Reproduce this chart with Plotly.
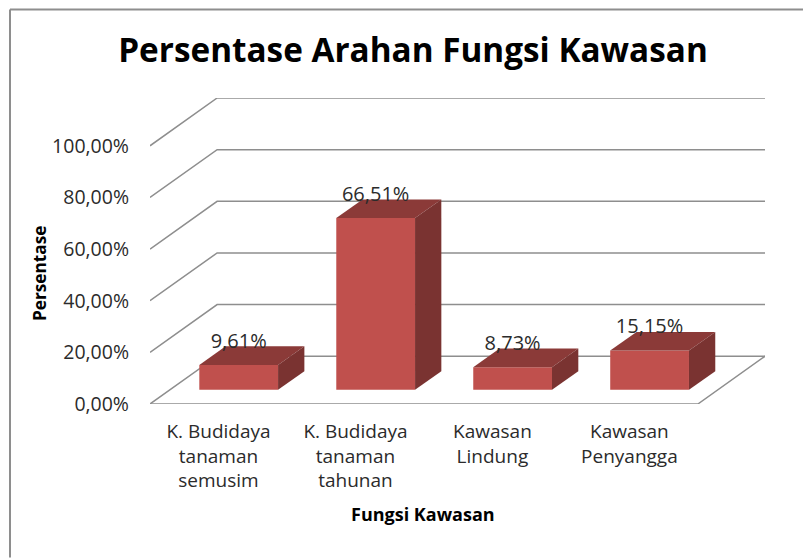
import plotly.graph_objects as go

W, H = 803, 558

# chart values
categories = ['K. Budidaya<br>tanaman<br>semusim', 'K. Budidaya<br>tanaman<br>tahunan',
              'Kawasan<br>Lindung', 'Kawasan<br>Penyangga']
values = [9.61, 66.51, 8.73, 15.15]
value_labels = ['9,61%', '66,51%', '8,73%', '15,15%']
y_ticks = [0, 20, 40, 60, 80, 100]
y_tick_labels = ['0,00%', '20,00%', '40,00%', '60,00%', '80,00%', '100,00%']

# fake 3D geometry, in axis units
WALL_DX, WALL_DY = 0.49, 18.5      # offset of the back wall
BAR_SHIFT, BAR_LIFT = 0.1475, 5.53 # bars stand in the middle of the floor
BAR_W = 0.575
BAR_DX, BAR_DY = 0.192, 7.2        # depth of a bar
X_END = len(categories) + WALL_DX
Y_END = 100 + WALL_DY

FRONT, TOP, SIDE = '#C0504D', '#8B3A38', '#7A3331'
GRID = '#8E8E8E'
TEXT = '#2b2b2b'
FONT = 'Open Sans'

L, R, T, B = 150, 38, 97.7, 153.7
paper_x = lambda px: (px - L) / (W - L - R)
paper_y = lambda px: (H - B - px) / (H - T - B)

fig = go.Figure()

# front faces
centers = [i + 0.5 + BAR_SHIFT for i in range(len(values))]
fig.add_trace(go.Bar(x=centers, y=values, base=BAR_LIFT, width=BAR_W,
                     marker=dict(color=FRONT, line=dict(width=0)), showlegend=False))

# top and side faces
for c, v in zip(centers, values):
    x0, x1 = c - BAR_W / 2, c + BAR_W / 2
    y0, y1 = BAR_LIFT, BAR_LIFT + v
    fig.add_trace(go.Scatter(x=[x0, x1, x1 + BAR_DX, x0 + BAR_DX, x0],
                             y=[y1, y1, y1 + BAR_DY, y1 + BAR_DY, y1],
                             mode='lines', fill='toself', fillcolor=TOP,
                             line=dict(width=0), showlegend=False))
    fig.add_trace(go.Scatter(x=[x1, x1 + BAR_DX, x1 + BAR_DX, x1, x1],
                             y=[y0, y0 + BAR_DY, y1 + BAR_DY, y1, y0],
                             mode='lines', fill='toself', fillcolor=SIDE,
                             line=dict(width=0), showlegend=False))

# value labels
fig.add_trace(go.Scatter(x=centers, y=[BAR_LIFT + v + 8.6 for v in values],
                         mode='text', text=value_labels,
                         textfont=dict(size=20, family=FONT, color=TEXT),
                         showlegend=False))

# gridlines on the side and back walls, drawn under the bars
shapes = []
for t in y_ticks:
    shapes.append(dict(type='path', layer='below',
                       path=f'M 0 {t} L {WALL_DX} {t + WALL_DY} L {X_END} {t + WALL_DY}',
                       line=dict(color=GRID, width=1.5)))
# floor outline
shapes.append(dict(type='path', layer='below',
                   path=f'M 0 0 L {len(categories)} 0 L {X_END} {WALL_DY}',
                   line=dict(color=GRID, width=1.5)))
# chart frame, only the top and left edges are in the picture
shapes.append(dict(type='line', xref='paper', yref='paper', layer='below',
                   x0=paper_x(10), x1=paper_x(803), y0=paper_y(9), y1=paper_y(9),
                   line=dict(color=GRID, width=2)))
shapes.append(dict(type='line', xref='paper', yref='paper', layer='below',
                   x0=paper_x(10), x1=paper_x(10), y0=paper_y(9), y1=paper_y(558),
                   line=dict(color=GRID, width=2)))

fig.update_layout(
    width=W, height=H, margin=dict(l=L, r=R, t=T, b=B),
    paper_bgcolor='white', plot_bgcolor='rgba(0,0,0,0)',
    font=dict(family=FONT, color=TEXT),
    showlegend=False, shapes=shapes,
    title=dict(text='<b>Persentase Arahan Fungsi Kawasan</b>',
               x=413 / W, xanchor='center', y=1 - 50 / H, yanchor='middle',
               font=dict(size=33.3, family=FONT, color='black')),
    annotations=[
        dict(text='<b>Fungsi Kawasan</b>', xref='paper', yref='paper',
             x=paper_x(423), y=paper_y(515), xanchor='center', yanchor='middle',
             showarrow=False, font=dict(size=18, family=FONT, color='black')),
        dict(text='<b>Persentase</b>', xref='paper', yref='paper', textangle=-90,
             x=paper_x(40), y=paper_y(274), xanchor='center', yanchor='middle',
             showarrow=False, font=dict(size=17.2, family=FONT, color='black')),
    ],
)

fig.update_xaxes(range=[0, X_END], tickvals=[i + 0.5 for i in range(len(categories))],
                 ticktext=categories, showgrid=False, zeroline=False, showline=False,
                 ticks='', ticklabelstandoff=14, tickfont=dict(size=19))
fig.update_yaxes(range=[0, Y_END], tickvals=y_ticks, ticktext=y_tick_labels,
                 showgrid=False, zeroline=False, showline=False,
                 ticks='', ticklabelstandoff=20, tickfont=dict(size=19.5))

fig.write_html("out.html", config=dict(displayModeBar=False),
               post_script="document.body.style.margin='0';document.body.style.overflow='hidden';")
